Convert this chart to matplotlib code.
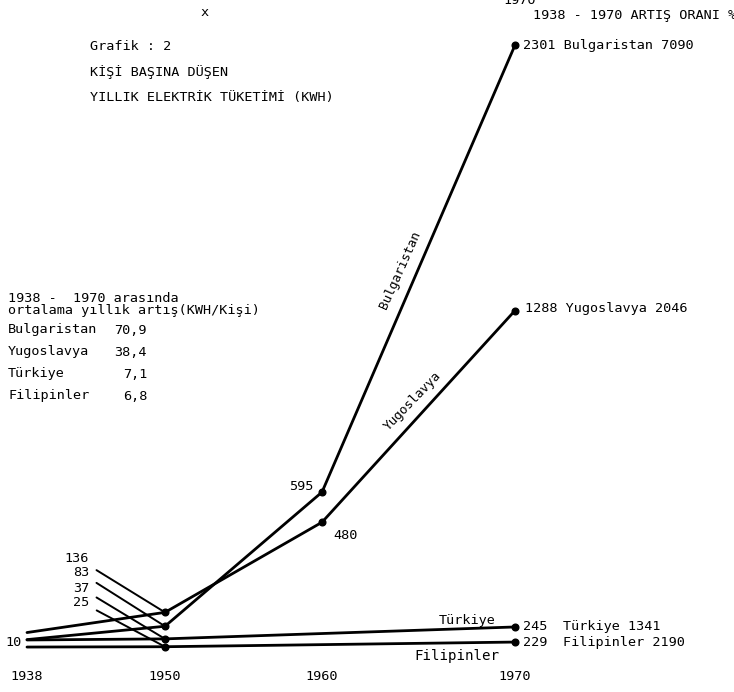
# -*- coding: utf-8 -*-
"""
Grafik 2 - kisi basina dusen yillik elektrik tuketimi (kWh)
"""

import numpy as np
import matplotlib
matplotlib.use('Agg')
import matplotlib.pyplot as plt

#%% veriler
yillar = [1938, 1950, 1960, 1970]
bulgaristan = [32, 83, 595, 2301]
yugoslavya = [59, 136, 480, 1288]
kucuk_yillar = [1938, 1950, 1970]
turkiye = [18, 37, 245]
filipinler = [11, 25, 229]

ulkeler = ['Bulgaristan', 'Yugoslavya', 'Türkiye', 'Filipinler']
ort_artis = ['70,9', '38,4', '7,1', '6,8']   # 1938-1970 ortalama yillik artis
artis_orani = [7090, 2046, 1341, 2190]       # 1938-1970 artis orani %

#%% sayfa duzeni (el cizimi olcek)
W, H = 734, 692
yil_px = [27, 165, 322, 515]   # yillarin sayfadaki yeri, esit aralikli degil


def px(x, y):
    return x / W, 1 - y / H


def ileri(x):
    x = np.asarray(x, float)
    y = np.interp(x, yillar, yil_px)
    y = np.where(x < yillar[0], yil_px[0] + (x - yillar[0]) * (yil_px[1] - yil_px[0]) / (yillar[1] - yillar[0]), y)
    y = np.where(x > yillar[-1], yil_px[-1] + (x - yillar[-1]) * (yil_px[-1] - yil_px[-2]) / (yillar[-1] - yillar[-2]), y)
    return y


def geri(p):
    p = np.asarray(p, float)
    x = np.interp(p, yil_px, yillar)
    x = np.where(p < yil_px[0], yillar[0] + (p - yil_px[0]) * (yillar[1] - yillar[0]) / (yil_px[1] - yil_px[0]), x)
    x = np.where(p > yil_px[-1], yillar[-1] + (p - yil_px[-1]) * (yillar[-1] - yillar[-2]) / (yil_px[-1] - yil_px[-2]), x)
    return x


def ylim(sifir_px, px_birim):
    # sifir degerinin sayfadaki yeri ve birim basina piksel
    return -(H - sifir_px) / px_birim, sifir_px / px_birim


plt.rcParams['font.family'] = ['DejaVu Sans Mono']
fs = 9.7

fig = plt.figure(figsize=(W / 100, H / 100), dpi=100)
ax = fig.add_axes([0, 0, 1, 1])
ax.set_xscale('function', functions=(ileri, geri))
ax.set_xlim(float(geri(0)), float(geri(W)))
ax.set_ylim(*ylim(648, 0.262))
ax.axis('off')

# Turkiye ve Filipinler ayri (sikistirilmis) olcekle cizilmis
tr_ax = ax.twinx()
tr_ax.set_ylim(*ylim(641, 0.0573))
tr_ax.axis('off')
fil_ax = ax.twinx()
fil_ax.set_ylim(*ylim(647.3, 0.0229))
fil_ax.axis('off')

lw = 2.0
ms = 4.8
for eks, xs, ys in [(ax, yillar, bulgaristan), (ax, yillar, yugoslavya),
                    (tr_ax, kucuk_yillar, turkiye), (fil_ax, kucuk_yillar, filipinler)]:
    eks.plot(xs, ys, color='k', lw=lw, solid_capstyle='round')
    eks.plot(xs[1:], ys[1:], 'o', color='k', ms=ms)

#%% uc etiketleri
ax.annotate('%d %s %d' % (bulgaristan[-1], ulkeler[0], artis_orani[0]), (yillar[-1], bulgaristan[-1]),
            xytext=(8, 0), textcoords='offset pixels', va='center', fontsize=fs)
ax.annotate('%d %s %d' % (yugoslavya[-1], ulkeler[1], artis_orani[1]), (yillar[-1], yugoslavya[-1]),
            xytext=(10, 2), textcoords='offset pixels', va='center', fontsize=fs)
for eks, ys, ad, oran in [(tr_ax, turkiye, ulkeler[2], artis_orani[2]),
                          (fil_ax, filipinler, ulkeler[3], artis_orani[3])]:
    eks.annotate(str(ys[-1]), (kucuk_yillar[-1], ys[-1]), xytext=(8, 0),
                 textcoords='offset pixels', va='center', fontsize=fs)
    eks.annotate('%s %d' % (ad, oran), (kucuk_yillar[-1], ys[-1]), xytext=(48, 0),
                 textcoords='offset pixels', va='center', fontsize=fs)

# 1960 degerleri
ax.annotate(str(bulgaristan[2]), (yillar[2], bulgaristan[2]), xytext=(-21, 6),
            textcoords='offset pixels', ha='center', va='center', fontsize=fs)
ax.annotate(str(yugoslavya[2]), (yillar[2], yugoslavya[2]), xytext=(24, -13),
            textcoords='offset pixels', ha='center', va='center', fontsize=fs)

# 1950 degerleri, isaret cizgileriyle
for eks, deg, ty in [(ax, yugoslavya[1], 558), (ax, bulgaristan[1], 573),
                     (tr_ax, turkiye[1], 588), (fil_ax, filipinler[1], 602)]:
    eks.annotate(str(deg), (1950, deg), xytext=(89, H - ty), textcoords='figure pixels',
                 ha='right', va='center', fontsize=fs,
                 arrowprops=dict(arrowstyle='-', color='k', lw=1.4, shrinkA=4, shrinkB=0))
fig.text(*px(5, 643), '10', va='center', fontsize=fs)

# cizgi uzerindeki ulke adlari
t = 0.49
ax.annotate(ulkeler[0], (1960 + 10 * t, bulgaristan[2] + t * (bulgaristan[3] - bulgaristan[2])),
            xytext=(-16, 3), textcoords='offset pixels', rotation=66,
            ha='center', va='center', rotation_mode='anchor', fontsize=fs - 0.5)
t = 0.52
ax.annotate(ulkeler[1], (1960 + 10 * t, yugoslavya[2] + t * (yugoslavya[3] - yugoslavya[2])),
            xytext=(-10, 11), textcoords='offset pixels', rotation=46,
            ha='center', va='center', rotation_mode='anchor', fontsize=fs - 0.5)
tr_ax.annotate(ulkeler[2], (1967.5, turkiye[1] + 0.75 * (turkiye[2] - turkiye[1])),
               xytext=(0, 9), textcoords='offset pixels', ha='center', va='center', fontsize=fs)
fil_ax.annotate(ulkeler[3], (1967.0, filipinler[1] + 0.7 * (filipinler[2] - filipinler[1])),
                xytext=(0, -13), textcoords='offset pixels', ha='center', va='center', fontsize=fs + 0.5)

#%% yil etiketleri
alt = matplotlib.transforms.blended_transform_factory(ax.transData, fig.transFigure)
for yil in yillar:
    ax.text(yil, px(0, 677)[1], str(yil), transform=alt, ha='center', va='center', fontsize=fs)

#%% basliklar
fig.text(*px(90, 46), 'Grafik : 2', va='center', fontsize=fs)
fig.text(*px(90, 72), 'KİŞİ BAŞINA DÜŞEN', va='center', fontsize=fs)
fig.text(*px(90, 98), 'YILLIK ELEKTRİK TÜKETİMİ (KWH)', va='center', fontsize=fs)

fig.text(*px(533, 15), '1938 - 1970 ARTIŞ ORANI %', va='center', fontsize=fs)
fig.text(*px(190, -3), '1950', va='center', fontsize=fs)
fig.text(*px(310, -3), '1960', va='center', fontsize=fs)
fig.text(*px(503, 1), '1970', va='center', fontsize=fs)
fig.text(*px(200, 13), 'x', va='center', fontsize=fs)

fig.text(*px(8, 299), '1938 -  1970 arasında', va='center', fontsize=fs)
fig.text(*px(8, 311), 'ortalama yıllık artış(KWH/Kişi)', va='center', fontsize=fs)
for i, (ad, deg) in enumerate(zip(ulkeler, ort_artis)):
    y = 330 + i * 22
    fig.text(*px(8, y), ad, va='center', fontsize=fs)
    fig.text(*px(147, y), deg, va='center', ha='right', fontsize=fs)

fig.savefig('out.png', dpi=100)
